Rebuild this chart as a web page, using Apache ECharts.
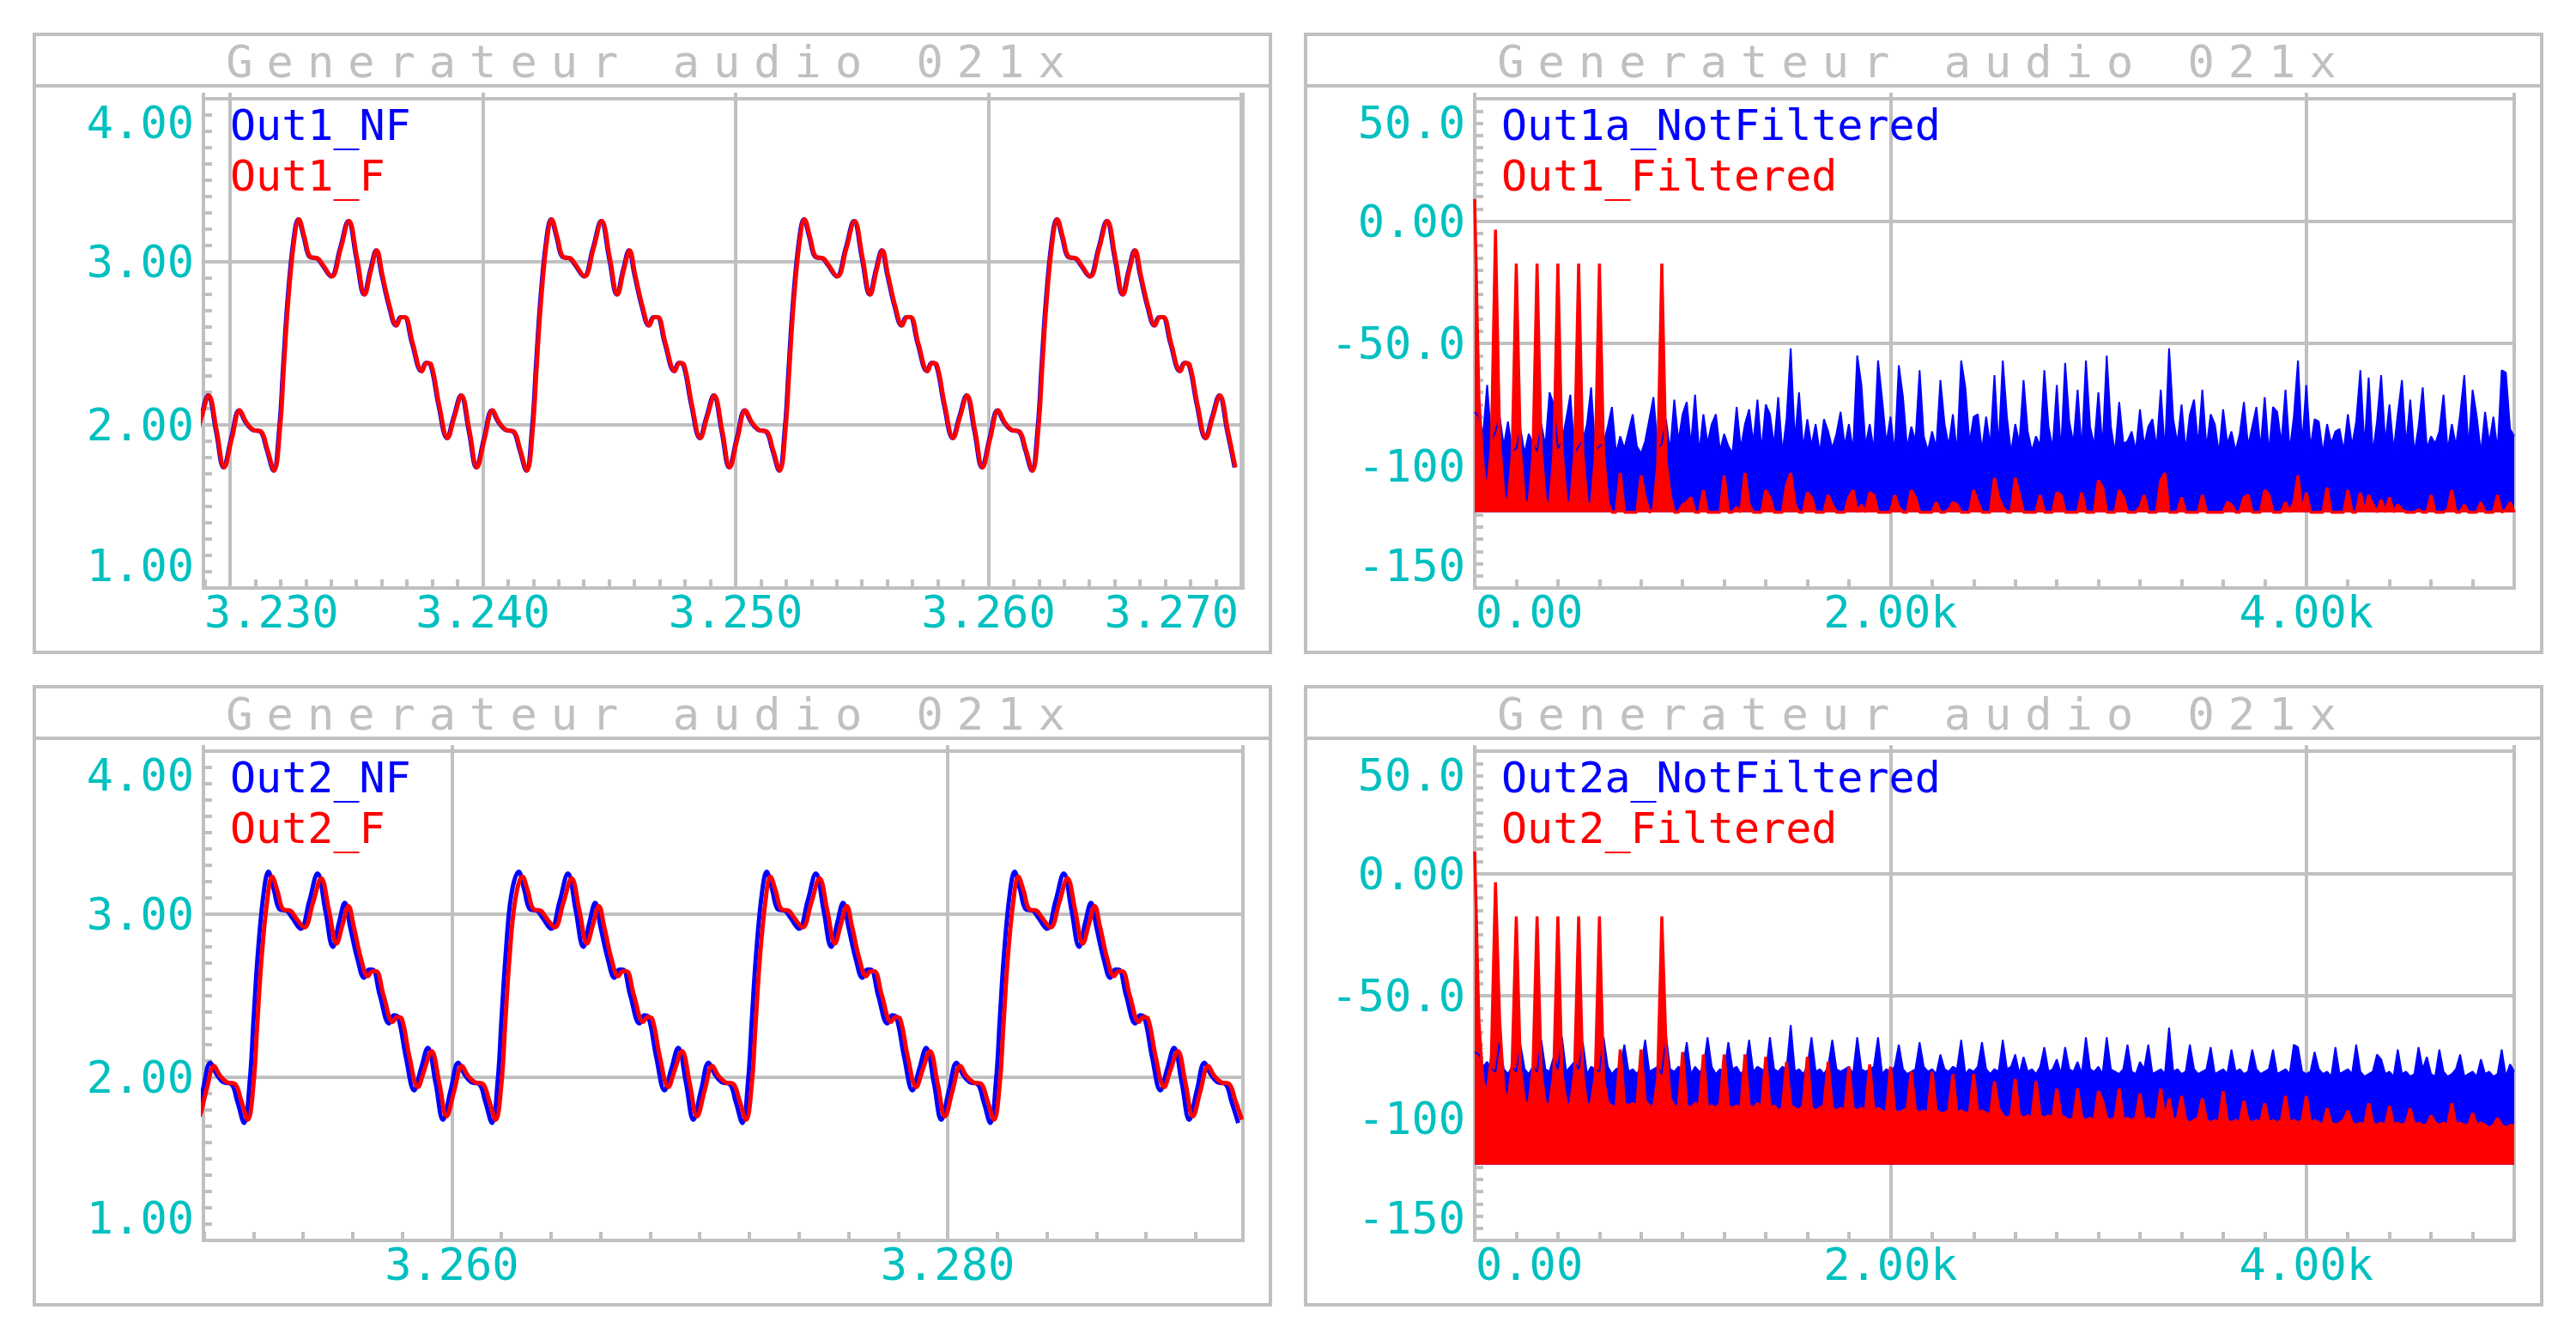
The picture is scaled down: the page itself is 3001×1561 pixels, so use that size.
<!DOCTYPE html>
<html>
<head>
<meta charset="utf-8">
<title>Generateur audio 021x</title>
<script src="https://cdn.jsdelivr.net/npm/echarts@6.0.0/dist/echarts.min.js"></script>
<style>
  html, body { margin: 0; padding: 0; background: #ffffff; }
  #chart { width: 3001px; height: 1561px; }
</style>
</head>
<body>
<div id="chart"></div>
<script>
// ---------- data ----------
var TITLE = 'Generateur audio 021x';
var legendTop = [['Out1_NF', 'Out1_F'], ['Out1a_NotFiltered', 'Out1_Filtered']];
var legendBottom = [['Out2_NF', 'Out2_F'], ['Out2a_NotFiltered', 'Out2_Filtered']];

// time windows (s) and axis ranges
var time1Range = [3.22895, 3.27007];
var time2Range = [3.24998, 3.29191];
var voltRange = [1, 4];
var dbRange = [-150, 50];
var hzRange = [0, 5000];

// one 10 ms period of the output, offsets (ms) from the main peak
var cycleMs = [0, 0.22, 0.45, 0.75, 0.95, 1.3, 1.65, 1.98, 2.3, 2.6, 2.85, 3.08, 3.3, 3.6, 3.86, 4.05, 4.2, 4.5, 4.87,
  5.05, 5.23, 5.55, 5.88, 6.15, 6.43, 6.75, 7.04, 7.35, 7.66, 7.9, 8.18, 8.5, 8.75, 9.02, 9.25, 9.4, 9.57, 9.8];
var cycleNF = [3.26, 3.15, 3.03, 3.02, 2.98, 2.91, 3.08, 3.25, 3.02, 2.80, 2.95, 3.07, 2.92, 2.72, 2.61, 2.66, 2.66, 2.50, 2.33,
  2.38, 2.37, 2.12, 1.92, 2.05, 2.18, 1.96, 1.74, 1.92, 2.09, 2.02, 1.97, 1.96, 1.85, 1.72, 1.98, 2.35, 2.75, 3.12];
var cycleF2 = [3.23, 3.14, 3.03, 3.02, 2.98, 2.92, 3.07, 3.22, 3.02, 2.82, 2.94, 3.05, 2.92, 2.72, 2.62, 2.65, 2.65, 2.50, 2.34,
  2.37, 2.36, 2.12, 1.94, 2.05, 2.16, 1.96, 1.76, 1.92, 2.07, 2.01, 1.97, 1.96, 1.86, 1.74, 1.96, 2.32, 2.72, 3.08];
// times (s) of the main peaks seen in each window, and where each record stops
var out1Peaks = [3.2227, 3.2327, 3.2427, 3.2527, 3.2627];
var out2Peaks = [3.2426, 3.2526, 3.2627, 3.2727, 3.2827];
var out1End = 3.26975;
var out2End = 3.29173;
var lagOut1F = 0.03;   // ms, filtered trace lags a little
var lagOut2F = 0.15;

// spectra: level (dB) per 20 Hz bin, 0 .. 5000 Hz
var BIN_HZ = 20;
var FLOOR_DB = -119;
var out1aNotFiltered = [
  -78, -80, -88, -67, -90, -86, -80, -92, -82, -94,
  -93, -85, -95, -87, -91, -94, -83, -92, -70, -75,
  -93, -90, -81, -71, -95, -92, -90, -83, -68, -94,
  -92, -91, -84, -76, -95, -88, -93, -86, -79, -92,
  -95, -90, -81, -72, -93, -91, -81, -94, -73, -90,
  -79, -74, -92, -71, -95, -79, -91, -83, -79, -94,
  -87, -92, -95, -76, -93, -83, -77, -91, -73, -94,
  -75, -79, -92, -72, -95, -81, -52, -90, -70, -93,
  -81, -92, -83, -95, -81, -86, -93, -87, -78, -92,
  -83, -94, -55, -67, -92, -83, -94, -57, -73, -91,
  -80, -95, -59, -72, -93, -84, -90, -61, -88, -94,
  -86, -93, -65, -83, -92, -79, -95, -57, -68, -91,
  -80, -79, -94, -80, -92, -63, -93, -57, -80, -95,
  -83, -91, -65, -86, -94, -88, -92, -61, -84, -93,
  -67, -95, -58, -82, -91, -69, -94, -57, -84, -92,
  -70, -93, -55, -84, -95, -74, -91, -90, -86, -94,
  -77, -92, -84, -81, -93, -69, -95, -52, -81, -91,
  -75, -94, -79, -73, -92, -69, -93, -79, -83, -95,
  -77, -91, -86, -94, -87, -74, -92, -84, -76, -93,
  -72, -95, -76, -78, -91, -69, -94, -80, -57, -92,
  -67, -93, -81, -82, -95, -83, -91, -86, -85, -94,
  -79, -92, -82, -61, -93, -64, -95, -82, -63, -91,
  -75, -94, -79, -65, -92, -73, -95, -84, -68, -93,
  -88, -91, -86, -71, -94, -83, -92, -79, -63, -93,
  -69, -80, -95, -78, -91, -80, -94, -61, -62, -85,
  -88];
var out1Filtered = [
  9, -72, -100, -112, -92, -3.5, -90, -112, -116, -96,
  -17.4, -94, -114, -117, -96, -17.4, -94, -114, -117, -96,
  -17.4, -94, -114, -117, -96, -17.4, -95, -115, -117, -97,
  -17.4, -95, -115, -119, -119, -103, -119, -119, -119, -119,
  -104, -113, -119, -118, -100, -17.4, -98, -112, -119, -119,
  -116, -115, -113, -119, -119, -110, -119, -119, -119, -119,
  -104, -119, -119, -117, -119, -103, -116, -119, -119, -119,
  -110, -113, -119, -119, -119, -108, -103, -116, -119, -119,
  -111, -113, -119, -119, -119, -112, -116, -119, -119, -119,
  -113, -110, -119, -116, -119, -111, -112, -119, -119, -119,
  -119, -112, -117, -119, -119, -110, -113, -119, -119, -119,
  -119, -115, -119, -119, -118, -115, -116, -119, -119, -119,
  -110, -115, -119, -119, -119, -105, -113, -117, -119, -119,
  -105, -112, -119, -119, -119, -119, -112, -119, -119, -119,
  -111, -112, -119, -119, -119, -119, -111, -119, -119, -119,
  -106, -109, -119, -119, -119, -110, -113, -119, -119, -119,
  -117, -112, -119, -119, -119, -106, -103, -119, -119, -119,
  -113, -119, -119, -119, -119, -112, -119, -119, -119, -119,
  -119, -115, -116, -119, -119, -113, -112, -119, -119, -119,
  -110, -112, -119, -119, -119, -115, -119, -115, -104, -119,
  -111, -119, -119, -119, -119, -109, -119, -119, -119, -119,
  -110, -119, -119, -111, -119, -112, -116, -119, -114, -119,
  -113, -119, -116, -118, -119, -119, -119, -118, -119, -119,
  -112, -119, -119, -119, -118, -110, -119, -119, -116, -119,
  -119, -119, -115, -119, -119, -119, -112, -119, -118, -115,
  -119];
var out2aNotFiltered = [
  -73, -74, -79, -77, -80, -81, -69, -80, -82, -79,
  -81, -70, -80, -82, -79, -81, -68, -80, -81, -75,
  -80, -67, -81, -79, -77, -80, -69, -82, -79, -80,
  -81, -67, -79, -82, -80, -79, -70, -81, -80, -82,
  -79, -68, -81, -80, -79, -82, -66, -80, -81, -79,
  -80, -69, -82, -79, -81, -80, -67, -79, -82, -80,
  -81, -69, -80, -79, -82, -80, -68, -81, -79, -80,
  -82, -67, -80, -81, -79, -80, -62, -81, -80, -82,
  -79, -67, -81, -80, -82, -79, -68, -80, -81, -80,
  -79, -82, -67, -80, -81, -80, -79, -67, -82, -80,
  -81, -79, -70, -80, -82, -81, -80, -69, -79, -81,
  -80, -82, -74, -80, -81, -79, -80, -68, -82, -80,
  -81, -79, -69, -80, -82, -80, -81, -68, -80, -79,
  -74, -82, -75, -81, -80, -82, -79, -71, -81, -80,
  -76, -82, -71, -80, -81, -77, -82, -67, -80, -81,
  -79, -82, -67, -80, -81, -82, -80, -70, -81, -82,
  -77, -80, -70, -82, -81, -80, -82, -63, -81, -80,
  -82, -81, -70, -80, -82, -81, -80, -71, -82, -81,
  -80, -82, -72, -81, -80, -82, -81, -72, -80, -82,
  -81, -80, -72, -82, -81, -80, -82, -70, -71, -81,
  -82, -81, -73, -80, -82, -81, -83, -71, -82, -81,
  -80, -82, -70, -81, -83, -82, -81, -74, -76, -82,
  -81, -83, -72, -82, -81, -83, -82, -71, -80, -75,
  -82, -83, -72, -81, -83, -82, -80, -74, -83, -82,
  -81, -83, -76, -82, -81, -83, -82, -72, -83, -78,
  -81];
var out2Filtered = [
  9, -60, -85, -90, -75, -3.6, -60, -88, -94, -78,
  -17.6, -80, -93, -95, -80, -17.6, -82, -94, -95, -82,
  -17.6, -82, -94, -95, -82, -17.6, -82, -95, -94, -83,
  -17.6, -84, -94, -95, -96, -72, -94, -95, -94, -95,
  -72, -93, -95, -96, -84, -17.6, -70, -92, -95, -96,
  -73, -95, -96, -94, -95, -74, -96, -95, -96, -94,
  -74, -95, -96, -95, -96, -74, -95, -96, -94, -96,
  -75, -96, -95, -97, -96, -77, -95, -96, -97, -95,
  -75, -96, -97, -96, -95, -77, -96, -97, -96, -97,
  -79, -96, -97, -96, -97, -78, -97, -96, -97, -98,
  -79, -97, -98, -97, -96, -81, -97, -98, -97, -98,
  -81, -97, -98, -98, -97, -82, -98, -97, -98, -98,
  -82, -98, -97, -98, -99, -85, -96, -99, -100, -99,
  -84, -99, -100, -99, -100, -85, -99, -100, -99, -100,
  -88, -99, -100, -101, -100, -88, -100, -101, -100, -101,
  -89, -93, -100, -101, -100, -88, -101, -100, -101, -100,
  -90, -101, -100, -101, -100, -88, -101, -92, -101, -100,
  -91, -101, -102, -101, -100, -92, -101, -102, -101, -102,
  -89, -101, -102, -101, -102, -93, -101, -102, -101, -102,
  -94, -102, -101, -102, -101, -91, -102, -101, -102, -101,
  -91, -102, -101, -102, -103, -96, -102, -103, -102, -101,
  -97, -102, -103, -102, -103, -94, -102, -103, -102, -103,
  -95, -103, -102, -103, -102, -96, -103, -102, -103, -103,
  -99, -102, -103, -102, -103, -94, -103, -102, -103, -103,
  -98, -103, -102, -103, -104, -103, -100, -103, -104, -103,
  -103];

// ---------- look ----------
var GRAY = '#c0c0c0', CYAN = '#00c0c0', BLUE = '#0000ff', RED = '#ff0000';
var FONT = '"DejaVu Sans Mono", monospace', FS = 52, LEGEND_FS = 50, LEGEND_ROW = 59;
var panels = [[40, 40], [1521, 40], [40, 800], [1521, 800]];
var PANEL_W = 1440, PANEL_H = 720, PW = 1211, PH = 570;
function plotLeft(g) { return panels[g][0] + 197; }
function plotTop(g) { return panels[g][1] + 75; }

var measure = document.createElement('canvas').getContext('2d');
function textWidth(s) { measure.font = FS + 'px ' + FONT; return measure.measureText(s).width; }

function fmtTime(v) { return v.toFixed(3); }
function fmtVolt(v) { return v.toFixed(2); }
function fmtDb(v) { return v === 0 ? '0.00' : v.toPrecision(3); }
function fmtHz(v) { return v === 0 ? '0.00' : (v / 1000).toPrecision(3) + 'k'; }
function tickKey(k) { return (k < 0 ? 'm' : 'p') + Math.abs(k); }

function labelFormatter(step, fmt, rich) {
  return function (v) {
    var k = Math.round(v / step);
    if (Math.abs(v / step - k) > 1e-6) return '';
    var s = fmt(k * step);
    return rich[tickKey(k)] ? '{' + tickKey(k) + '|' + s + '}' : s;
  };
}

// main x axis (labels + grid), minor tick axis, and short ticks above the box
function xAxes(g, range, step, minor, fmt) {
  var left = plotLeft(g), right = left + PW, min = range[0], max = range[1];
  var rich = {};
  for (var k = Math.ceil(min / step - 1e-6); k <= Math.floor(max / step + 1e-6); k++) {
    var s = fmt(k * step), w = textWidth(s);
    var x = left + (k * step - min) / (max - min) * PW, sh = 0;
    if (x - w / 2 < left) sh = left + 1 - (x - w / 2);
    else if (x + w / 2 > right) sh = right - 5 - (x + w / 2);
    if (sh > 0) rich[tickKey(k)] = { padding: [0, 0, 0, 2 * sh] };
    if (sh < 0) rich[tickKey(k)] = { padding: [0, -2 * sh, 0, 0] };
  }
  function base(extra) {
    var o = { type: 'value', gridIndex: g, min: min, max: max, axisLine: { show: false, onZero: false } };
    for (var key in extra) o[key] = extra[key];
    return o;
  }
  return [
    base({
      position: 'bottom', minInterval: step, maxInterval: step, axisTick: { show: false },
      splitLine: { show: true, lineStyle: { color: GRAY, width: 4 } },
      axisLabel: { color: CYAN, fontFamily: FONT, fontSize: FS, margin: 2, rich: rich,
        formatter: labelFormatter(step, fmt, rich) }
    }),
    base({
      position: 'bottom', minInterval: minor, maxInterval: minor,
      splitLine: { show: false }, axisLabel: { show: false },
      axisTick: { show: true, inside: true, length: 10, lineStyle: { color: GRAY, width: 4 } }
    }),
    base({
      position: 'top', minInterval: step, maxInterval: step,
      splitLine: { show: false }, axisLabel: { show: false },
      axisTick: { show: true, length: 7, lineStyle: { color: GRAY, width: 4 } }
    })
  ];
}

function yAxis(g, range, step, fmt) {
  var rich = {};
  rich[tickKey(Math.round(range[1] / step))] = { padding: [56, 0, 0, 0] };
  rich[tickKey(Math.round(range[0] / step))] = { padding: [0, 0, 52, 0] };
  return {
    type: 'value', gridIndex: g, min: range[0], max: range[1], interval: step,
    axisLine: { show: false, onZero: false },
    axisTick: { show: false, inside: true },
    minorTick: { show: true, splitNumber: 10, length: 10, lineStyle: { color: GRAY, width: 4 } },
    splitLine: { show: true, lineStyle: { color: GRAY, width: 4 } },
    axisLabel: { color: CYAN, fontFamily: FONT, fontSize: FS, margin: 11, rich: rich,
      formatter: labelFormatter(step, fmt, rich) }
  };
}

// repeat the read period at each read peak time; the record stops at `end`
function wave(peaks, shape, lagMs, end) {
  var pts = [];
  peaks.forEach(function (p) {
    cycleMs.forEach(function (ms, i) {
      if (p + ms / 1000 <= end) pts.push([p + (ms + lagMs) / 1000, shape[i]]);
    });
  });
  return pts;
}
function spectrum(levels) {
  return levels.map(function (v, i) { return [i * BIN_HZ, v]; });
}

function waveSeries(name, g, data, color) {
  return { name: name, type: 'line', xAxisIndex: 3 * g, yAxisIndex: g, data: data,
    symbol: 'none', smooth: 0.4, silent: true,
    lineStyle: { color: color, width: 5 }, itemStyle: { color: color } };
}
function specSeries(name, g, data, color, width) {
  return { name: name, type: 'line', xAxisIndex: 3 * g, yAxisIndex: g, data: data,
    symbol: 'none', silent: true,
    lineStyle: { color: color, width: width }, itemStyle: { color: color },
    areaStyle: { color: color, opacity: 1, origin: FLOOR_DB } };
}

var legendNames = [legendTop[0], legendTop[1], legendBottom[0], legendBottom[1]];

var graphics = [];
panels.forEach(function (p) {
  graphics.push({ type: 'rect', silent: true,
    shape: { x: p[0], y: p[1], width: PANEL_W, height: PANEL_H },
    style: { fill: 'none', stroke: GRAY, lineWidth: 4 } });
  graphics.push({ type: 'line', silent: true,
    shape: { x1: p[0], y1: p[1] + 60, x2: p[0] + PANEL_W, y2: p[1] + 60 },
    style: { stroke: GRAY, lineWidth: 4 } });
});

var option = {
  backgroundColor: '#ffffff',
  animation: false,
  textStyle: { fontFamily: FONT },
  graphic: graphics,
  title: panels.map(function (p) {
    return { text: TITLE, left: p[0] + PANEL_W / 2, top: p[1] + 6, textAlign: 'center', padding: 0,
      textStyle: { color: GRAY, fontFamily: FONT, fontSize: FS, fontWeight: 'normal' } };
  }),
  legend: legendNames.map(function (names, g) {
    return { left: plotLeft(g) + 26, top: plotTop(g) + 1, orient: 'vertical', icon: 'none',
      itemWidth: 0, itemHeight: LEGEND_ROW, itemGap: 0, padding: 0, selectedMode: false,
      textStyle: { fontFamily: FONT, fontSize: LEGEND_FS, lineHeight: LEGEND_ROW },
      data: names.map(function (n, i) { return { name: n, textStyle: { color: i ? RED : BLUE } }; }) };
  }),
  grid: panels.map(function (p, g) {
    return { left: plotLeft(g), top: plotTop(g), width: PW, height: PH, show: true,
      borderColor: GRAY, borderWidth: 4, backgroundColor: 'transparent', outerBoundsMode: 'none' };
  }),
  xAxis: [].concat(
    xAxes(0, time1Range, 0.01, 0.001, fmtTime),
    xAxes(1, hzRange, 2000, 200, fmtHz),
    xAxes(2, time2Range, 0.02, 0.002, fmtTime),
    xAxes(3, hzRange, 2000, 200, fmtHz)
  ),
  yAxis: [
    yAxis(0, voltRange, 1, fmtVolt),
    yAxis(1, dbRange, 50, fmtDb),
    yAxis(2, voltRange, 1, fmtVolt),
    yAxis(3, dbRange, 50, fmtDb)
  ],
  series: [
    waveSeries('Out1_NF', 0, wave(out1Peaks, cycleNF, 0, out1End), BLUE),
    waveSeries('Out1_F', 0, wave(out1Peaks, cycleNF, lagOut1F, out1End), RED),
    specSeries('Out1a_NotFiltered', 1, spectrum(out1aNotFiltered), BLUE, 2),
    specSeries('Out1_Filtered', 1, spectrum(out1Filtered), RED, 3.5),
    waveSeries('Out2_NF', 2, wave(out2Peaks, cycleNF, 0, out2End), BLUE),
    waveSeries('Out2_F', 2, wave(out2Peaks, cycleF2, lagOut2F, out2End), RED),
    specSeries('Out2a_NotFiltered', 3, spectrum(out2aNotFiltered), BLUE, 2),
    specSeries('Out2_Filtered', 3, spectrum(out2Filtered), RED, 3.5)
  ]
};

var chart = echarts.init(document.getElementById('chart'), null, { renderer: 'svg' });

// the plotter spaces the title letters wide
function spaceTitles() {
  var nodes = document.querySelectorAll('#chart text');
  for (var i = 0; i < nodes.length; i++) {
    if (nodes[i].textContent === TITLE) nodes[i].style.letterSpacing = '16px';
  }
}
chart.on('finished', spaceTitles);
chart.setOption(option);
spaceTitles();
</script>
</body>
</html>
